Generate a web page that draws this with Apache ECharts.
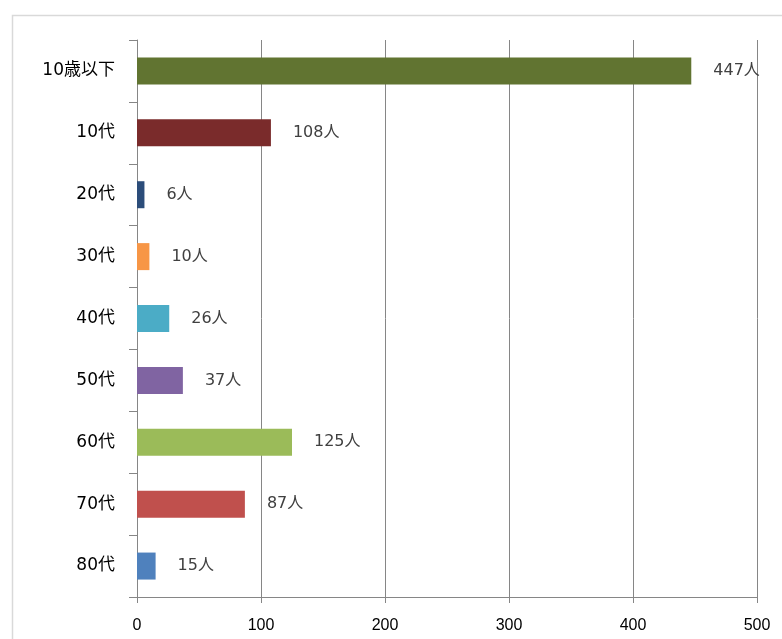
<!DOCTYPE html>
<html>
<head>
<meta charset="utf-8">
<script src="https://cdn.jsdelivr.net/npm/echarts@6/dist/echarts.min.js"></script>
<style>
  html, body { margin: 0; padding: 0; background: #fff; }
  #chart { width: 782px; height: 639px; }
</style>
</head>
<body>
<div id="chart"></div>
<script>
// 年代別の人数
const categories = ['10歳以下', '10代', '20代', '30代', '40代', '50代', '60代', '70代', '80代'];
const values = [447, 108, 6, 10, 26, 37, 125, 87, 15];
const barColors = ['#617431', '#7a2b2b', '#2c4d7a', '#f79646', '#4bacc6', '#8064a2', '#9bbb59', '#c0504d', '#4f81bd'];
const xTicks = [0, 100, 200, 300, 400, 500];

const jpFont = '"DejaVu Sans", "Noto Sans CJK JP", sans-serif';

const chart = echarts.init(document.getElementById('chart'));

const option = {
  animation: false,
  textStyle: { fontFamily: jpFont },
  graphic: [{
    type: 'rect',
    left: 10, top: 13,
    shape: { width: 800, height: 700 },
    style: { fill: 'none', stroke: '#d9d9d9', lineWidth: 1.5 },
    silent: true
  }],
  grid: { left: 137, right: 25, top: 40, bottom: 42 },
  xAxis: {
    type: 'value',
    min: xTicks[0],
    max: xTicks[xTicks.length - 1],
    interval: 100,
    axisLine: { show: true, lineStyle: { color: '#868686', width: 1 } },
    axisTick: { show: true, length: 6, lineStyle: { color: '#868686' } },
    axisLabel: { color: '#000', fontSize: 16, margin: 21, fontFamily: '"Liberation Sans", sans-serif' },
    splitLine: { show: true, lineStyle: { color: '#868686', width: 1 } }
  },
  yAxis: {
    type: 'category',
    data: categories,
    inverse: true,
    axisLine: { show: true, lineStyle: { color: '#868686', width: 1 } },
    axisTick: { show: true, length: 8, lineStyle: { color: '#868686' } },
    axisLabel: { color: '#000', fontSize: 17, margin: 22 }
  },
  series: [{
    type: 'bar',
    data: values.map((v, i) => ({ value: v, itemStyle: { color: barColors[i] } })),
    barWidth: 27,
    label: {
      show: true,
      position: 'right',
      distance: 22,
      color: '#404040',
      fontSize: 16,
      formatter: p => p.value + '人'
    }
  }]
};

chart.setOption(option);
</script>
</body>
</html>
